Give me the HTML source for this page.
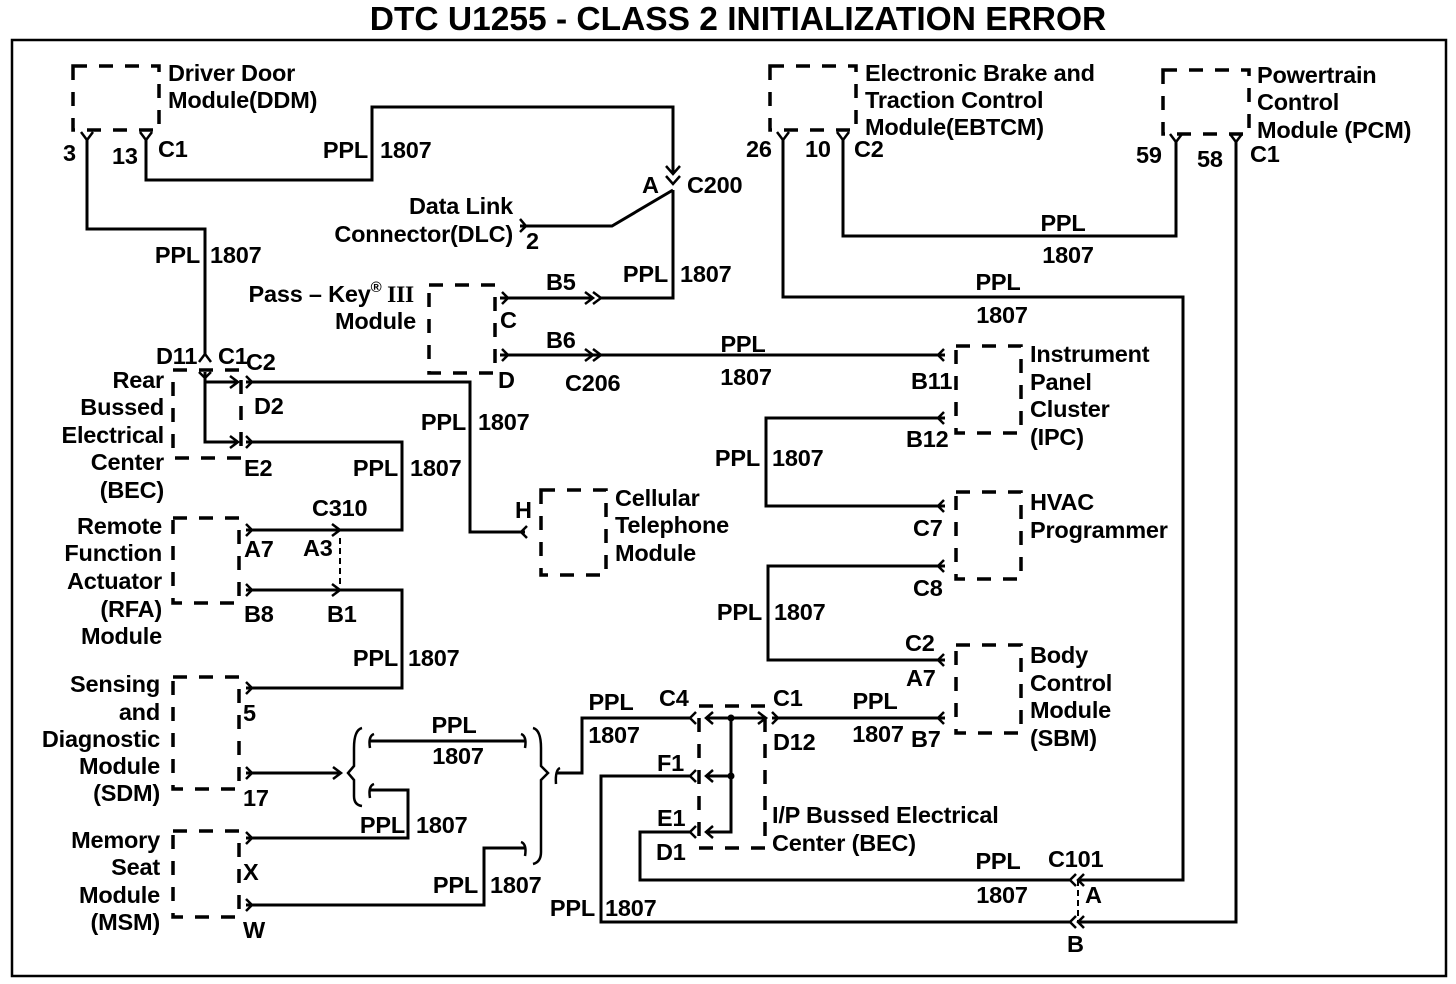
<!DOCTYPE html>
<html><head><meta charset="utf-8"><style>
html,body{margin:0;padding:0;background:#fff}
svg{display:block}
text{font-family:"Liberation Sans",sans-serif;font-size:23.5px;font-weight:bold;fill:#000;letter-spacing:-0.2px}
.w{fill:none;stroke:#000;stroke-width:3}
.d{fill:none;stroke:#000;stroke-width:3.5;stroke-dasharray:14 12}
.t{fill:none;stroke:#000;stroke-width:2}
.dd{fill:none;stroke:#000;stroke-width:2;stroke-dasharray:6 4}
</style></head><body>
<svg width="1456" height="984" viewBox="0 0 1456 984" xmlns="http://www.w3.org/2000/svg">
<text x="738" y="30" text-anchor="middle" style="font-size:33.5px;letter-spacing:0">DTC U1255 - CLASS 2 INITIALIZATION ERROR</text>
<rect x="12" y="40" width="1434" height="936" class="t" style="stroke-width:2.5"/>

<rect x="73" y="66" width="86" height="64" class="d"/>
<rect x="770" y="66" width="86" height="64" class="d"/>
<rect x="1163" y="70" width="86" height="64" class="d"/>
<rect x="429" y="285" width="66" height="88" class="d"/>
<rect x="173" y="370" width="68" height="88" class="d"/>
<rect x="173" y="518" width="66" height="85" class="d"/>
<rect x="173" y="677" width="66" height="112" class="d"/>
<rect x="173" y="831" width="66" height="86" class="d"/>
<rect x="956" y="346" width="65" height="87" class="d"/>
<rect x="956" y="492" width="65" height="87" class="d"/>
<rect x="956" y="645" width="65" height="88" class="d"/>
<rect x="541" y="490" width="65" height="85" class="d"/>
<rect x="699" y="706" width="66" height="142" class="d"/>

<path class="w" d="M87,140 V229 H205 V356"/>
<path class="w" d="M146,140 V180 H372 V107 H673 V172"/>
<path class="w" d="M673,190 V298 H600"/>
<path class="w" d="M520,226 H612 L673,190"/>
<path class="w" d="M500,298 H592"/>
<path class="w" d="M500,355 H945"/>
<path class="w" d="M783,140 V297 H1183 V880 H1078"/>
<path class="w" d="M843,140 V236 H1176 V140"/>
<path class="w" d="M1236,140 V922 H1078"/>
<path class="w" d="M1070,922 H601 V776 H690"/>
<path class="w" d="M1070,880 H640 V832 H690"/>
<path class="w" d="M246,382 H470 V532 H525"/>
<path class="w" d="M246,442 H402 V530 H246"/>
<path class="w" d="M205,372 V442 H238 M205,382 H238"/>
<path class="dd" d="M340,538 V588"/>
<path class="w" d="M246,590 H402 V688 H246"/>
<path class="w" d="M246,773 H340"/>
<path class="w" d="M370,741 H525"/>
<path class="w" d="M370,790 H408 V838 H246"/>
<path class="w" d="M246,905 H484 V848 H525"/>
<path class="w" d="M556,773 H582 V718 H690"/>
<path class="w" d="M706,718 H766 M731,718 V832 H706 M706,776 H731"/>
<circle cx="731" cy="718" r="3.5"/><circle cx="731" cy="776" r="3.5"/>
<path class="w" d="M772,718 H945"/>
<path class="w" d="M945,418 H766 V506 H945"/>
<path class="w" d="M945,566 H768 V660 H945"/>
<path class="dd" d="M1078,880 V922"/>

<g class="w" style="stroke-width:2.5">
<path d="M81,132 L87,140 L93,132 M140,132 L146,140 L152,132"/>
<path d="M777,132 L783,140 L789,132 M837,132 L843,140 L849,132"/>
<path d="M1170,134 L1176,142 L1182,134 M1230,134 L1236,142 L1242,134"/>
<path d="M199,362 L205,354 L211,362 M199,372 L205,378 L211,372"/>
<path d="M666,166 L673,174 L680,166 M666,176 L673,184 L680,176"/>
<path d="M230,376 L238,382 L230,388 M230,436 L238,442 L230,448"/>
<path d="M246,376 L252,382 L246,388 M246,436 L252,442 L246,448"/>
<path d="M502,292 L508,298 L502,304 M502,349 L508,355 L502,361"/>
<path d="M585,292 L593,298 L585,304 M593,292 L601,298 L593,304"/>
<path d="M585,349 L593,355 L585,361 M593,349 L601,355 L593,361"/>
<path d="M520,219 L526,226 L520,232"/>
<path d="M246,524 L252,530 L246,536 M246,584 L252,590 L246,596"/>
<path d="M332,524 L340,530 L332,536 M332,584 L340,590 L332,596"/>
<path d="M246,682 L252,688 L246,694 M246,767 L252,773 L246,779"/>
<path d="M246,832 L252,838 L246,844 M246,899 L252,905 L246,911"/>
<path d="M333,767 L341,773 L333,779"/>
<path d="M944,349 L938,355 L944,361 M944,412 L938,418 L944,424"/>
<path d="M944,500 L938,506 L944,512 M944,560 L938,566 L944,572"/>
<path d="M944,654 L938,660 L944,666 M944,712 L938,718 L944,724"/>
<path d="M527,526 L521,532 L527,538"/>
<path d="M696,712 L690,718 L696,724 M696,770 L690,776 L696,782 M696,826 L690,832 L696,838"/>
<path d="M713,712 L706,718 L713,724 M713,770 L706,776 L713,782 M713,826 L706,832 L713,838"/>
<path d="M758,712 L766,718 L758,724 M772,712 L778,718 L772,724"/>
<path d="M1084,874 L1078,880 L1084,886 M1076,874 L1070,880 L1076,886"/>
<path d="M1084,916 L1078,922 L1084,928 M1076,916 L1070,922 L1076,928"/>
<path d="M362,728 Q354,730 354,748 V766 L348,773 L354,780 V796 Q354,805 362,806"/>
<path d="M533,728 Q541,730 541,748 V766 L548,773 L541,780 V852 Q541,862 533,864"/>
<path d="M374,734 Q368,736 370,748 M374,784 Q368,786 370,798"/>
<path d="M521,734 Q527,736 525,748 M521,842 Q527,844 525,856"/>
<path d="M560,768 Q555,770 556,784"/>
</g>

<text x="168" y="81">Driver Door</text>
<text x="168" y="108">Module(DDM)</text>
<text x="865" y="81">Electronic Brake and</text>
<text x="865" y="108">Traction Control</text>
<text x="865" y="135">Module(EBTCM)</text>
<text x="1257" y="83">Powertrain</text>
<text x="1257" y="110">Control</text>
<text x="1257" y="138">Module (PCM)</text>
<text x="414" y="302" text-anchor="end">Pass – Key<tspan dy="-10" style="font-size:15px">®</tspan><tspan dy="10" style="font-family:'Liberation Serif',serif"> III</tspan></text>
<text x="416" y="329" text-anchor="end">Module</text>
<text x="513" y="214" text-anchor="end">Data Link</text>
<text x="513" y="242" text-anchor="end">Connector(DLC)</text>
<text x="164" y="388" text-anchor="end">Rear</text>
<text x="164" y="415" text-anchor="end">Bussed</text>
<text x="164" y="443" text-anchor="end">Electrical</text>
<text x="164" y="470" text-anchor="end">Center</text>
<text x="164" y="498" text-anchor="end">(BEC)</text>
<text x="162" y="534" text-anchor="end">Remote</text>
<text x="162" y="561" text-anchor="end">Function</text>
<text x="162" y="589" text-anchor="end">Actuator</text>
<text x="162" y="617" text-anchor="end">(RFA)</text>
<text x="162" y="644" text-anchor="end">Module</text>
<text x="160" y="692" text-anchor="end">Sensing</text>
<text x="160" y="720" text-anchor="end">and</text>
<text x="160" y="747" text-anchor="end">Diagnostic</text>
<text x="160" y="774" text-anchor="end">Module</text>
<text x="160" y="801" text-anchor="end">(SDM)</text>
<text x="160" y="848" text-anchor="end">Memory</text>
<text x="160" y="875" text-anchor="end">Seat</text>
<text x="160" y="903" text-anchor="end">Module</text>
<text x="160" y="930" text-anchor="end">(MSM)</text>
<text x="615" y="506">Cellular</text>
<text x="615" y="533">Telephone</text>
<text x="615" y="561">Module</text>
<text x="1030" y="362">Instrument</text>
<text x="1030" y="390">Panel</text>
<text x="1030" y="417">Cluster</text>
<text x="1030" y="445">(IPC)</text>
<text x="1030" y="510">HVAC</text>
<text x="1030" y="538">Programmer</text>
<text x="1030" y="663">Body</text>
<text x="1030" y="691">Control</text>
<text x="1030" y="718">Module</text>
<text x="1030" y="746">(SBM)</text>
<text x="772" y="823">I/P Bussed Electrical</text>
<text x="772" y="851">Center (BEC)</text>

<text x="63" y="161">3</text>
<text x="112" y="164">13</text>
<text x="158" y="157">C1</text>
<text x="746" y="157">26</text>
<text x="805" y="157">10</text>
<text x="854" y="157">C2</text>
<text x="1136" y="163">59</text>
<text x="1197" y="167">58</text>
<text x="1250" y="162">C1</text>
<text x="642" y="193">A</text>
<text x="687" y="193">C200</text>
<text x="526" y="249">2</text>
<text x="546" y="290">B5</text>
<text x="546" y="348">B6</text>
<text x="500" y="328">C</text>
<text x="498" y="388">D</text>
<text x="565" y="391">C206</text>
<text x="156" y="364">D11</text>
<text x="218" y="364">C1</text>
<text x="246" y="370">C2</text>
<text x="254" y="414">D2</text>
<text x="244" y="476">E2</text>
<text x="515" y="518">H</text>
<text x="312" y="516">C310</text>
<text x="244" y="557">A7</text>
<text x="303" y="556">A3</text>
<text x="244" y="622">B8</text>
<text x="327" y="622">B1</text>
<text x="243" y="721">5</text>
<text x="243" y="806">17</text>
<text x="243" y="880">X</text>
<text x="243" y="938">W</text>
<text x="911" y="389">B11</text>
<text x="906" y="447">B12</text>
<text x="913" y="536">C7</text>
<text x="913" y="596">C8</text>
<text x="905" y="651">C2</text>
<text x="906" y="686">A7</text>
<text x="911" y="747">B7</text>
<text x="659" y="706">C4</text>
<text x="657" y="771">F1</text>
<text x="657" y="826">E1</text>
<text x="656" y="860">D1</text>
<text x="773" y="706">C1</text>
<text x="773" y="750">D12</text>
<text x="1048" y="867">C101</text>
<text x="1085" y="903">A</text>
<text x="1067" y="952">B</text>

<g>
<text x="368" y="158" text-anchor="end">PPL</text><text x="380" y="158">1807</text>
<text x="200" y="263" text-anchor="end">PPL</text><text x="210" y="263">1807</text>
<text x="668" y="282" text-anchor="end">PPL</text><text x="680" y="282">1807</text>
<text x="1063" y="231" text-anchor="middle">PPL</text><text x="1068" y="263" text-anchor="middle">1807</text>
<text x="998" y="290" text-anchor="middle">PPL</text><text x="1002" y="323" text-anchor="middle">1807</text>
<text x="743" y="352" text-anchor="middle">PPL</text><text x="746" y="385" text-anchor="middle">1807</text>
<text x="466" y="430" text-anchor="end">PPL</text><text x="478" y="430">1807</text>
<text x="398" y="476" text-anchor="end">PPL</text><text x="410" y="476">1807</text>
<text x="760" y="466" text-anchor="end">PPL</text><text x="772" y="466">1807</text>
<text x="762" y="620" text-anchor="end">PPL</text><text x="774" y="620">1807</text>
<text x="398" y="666" text-anchor="end">PPL</text><text x="408" y="666">1807</text>
<text x="454" y="733" text-anchor="middle">PPL</text><text x="458" y="764" text-anchor="middle">1807</text>
<text x="405" y="833" text-anchor="end">PPL</text><text x="416" y="833">1807</text>
<text x="478" y="893" text-anchor="end">PPL</text><text x="490" y="893">1807</text>
<text x="611" y="710" text-anchor="middle">PPL</text><text x="614" y="743" text-anchor="middle">1807</text>
<text x="875" y="709" text-anchor="middle">PPL</text><text x="878" y="742" text-anchor="middle">1807</text>
<text x="998" y="869" text-anchor="middle">PPL</text><text x="1002" y="903" text-anchor="middle">1807</text>
<text x="595" y="916" text-anchor="end">PPL</text><text x="605" y="916">1807</text>
</g>
</svg>
</body></html>
